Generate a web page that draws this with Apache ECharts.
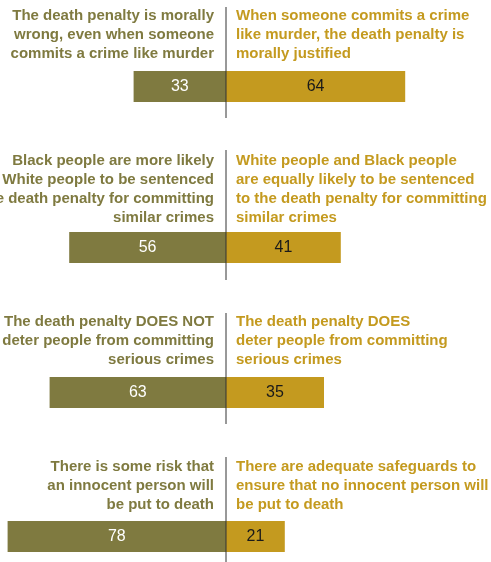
<!DOCTYPE html>
<html>
<head>
<meta charset="utf-8">
<script src="https://cdn.jsdelivr.net/npm/echarts@6/dist/echarts.min.js"></script>
<style>
html,body{margin:0;padding:0;background:#fff;}
#chart{width:491px;height:562px;}
</style>
</head>
<body>
<div id="chart"></div>
<script>
// Data
var leftStatements = [
  "The death penalty is morally\nwrong, even when someone\ncommits a crime like murder",
  "Black people are more likely\nthan White people to be sentenced\nto the death penalty for committing\nsimilar crimes",
  "The death penalty DOES NOT\ndeter people from committing\nserious crimes",
  "There is some risk that\nan innocent person will\nbe put to death"
];
var rightStatements = [
  "When someone commits a crime\nlike murder, the death penalty is\nmorally justified",
  "White people and Black people\nare equally likely to be sentenced\nto the death penalty for committing\nsimilar crimes",
  "The death penalty DOES\ndeter people from committing\nserious crimes",
  "There are adequate safeguards to\nensure that no innocent person will\nbe put to death"
];
var leftValues = [33, 56, 63, 78];
var rightValues = [64, 41, 35, 21];

// Layout
var barTops = [71, 232, 377, 521];
var barH = 31;
var textTops = [6, 151, 312, 457];
var lineTops = [7, 150, 313, 457];
var lineBottoms = [118, 280, 424, 568];
var LEFT_COLOR = '#7f7a40';
var RIGHT_COLOR = '#c49a1f';
var FONT = '"Liberation Sans", Arial, sans-serif';

var chart = echarts.init(document.getElementById('chart'), null, {renderer: 'canvas'});

var grids = [], xAxes = [], yAxes = [], series = [];
for (var i = 0; i < leftValues.length; i++) {
  grids.push({left: 2, right: 13, top: barTops[i], height: barH});
  xAxes.push({type: 'value', gridIndex: i, min: -80, max: 90, show: false});
  yAxes.push({type: 'category', gridIndex: i, data: ['q' + i], show: false});
  series.push({
    type: 'bar', xAxisIndex: i, yAxisIndex: i, barWidth: '100%', barGap: '-100%',
    data: [-leftValues[i]], itemStyle: {color: LEFT_COLOR}, silent: true,
    label: {show: true, position: 'inside', color: '#ffffff', fontFamily: FONT, fontSize: 16,
      formatter: function (p) { return Math.abs(p.value); }}
  });
  series.push({
    type: 'bar', xAxisIndex: i, yAxisIndex: i, barWidth: '100%', barGap: '-100%',
    data: [rightValues[i]], itemStyle: {color: RIGHT_COLOR}, silent: true,
    label: {show: true, position: 'inside', color: '#1a1a1a', fontFamily: FONT, fontSize: 16}
  });
}

chart.setOption({
  animation: false,
  grid: grids, xAxis: xAxes, yAxis: yAxes, series: series
});

var cx = chart.convertToPixel({xAxisIndex: 0}, 0);
var graphics = [];
for (var j = 0; j < leftValues.length; j++) {
  graphics.push({
    type: 'line', z: 10,
    shape: {x1: cx, y1: lineTops[j], x2: cx, y2: lineBottoms[j]},
    style: {stroke: '#333333', lineWidth: 1}
  });
  graphics.push({
    type: 'text', x: cx - 12, y: textTops[j],
    style: {text: leftStatements[j], fill: LEFT_COLOR, font: 'bold 15px ' + FONT,
      textAlign: 'right', textVerticalAlign: 'top', lineHeight: 19}
  });
  graphics.push({
    type: 'text', x: cx + 10, y: textTops[j],
    style: {text: rightStatements[j], fill: RIGHT_COLOR, font: 'bold 15px ' + FONT,
      textAlign: 'left', textVerticalAlign: 'top', lineHeight: 19}
  });
}
chart.setOption({graphic: graphics});
</script>
</body>
</html>
